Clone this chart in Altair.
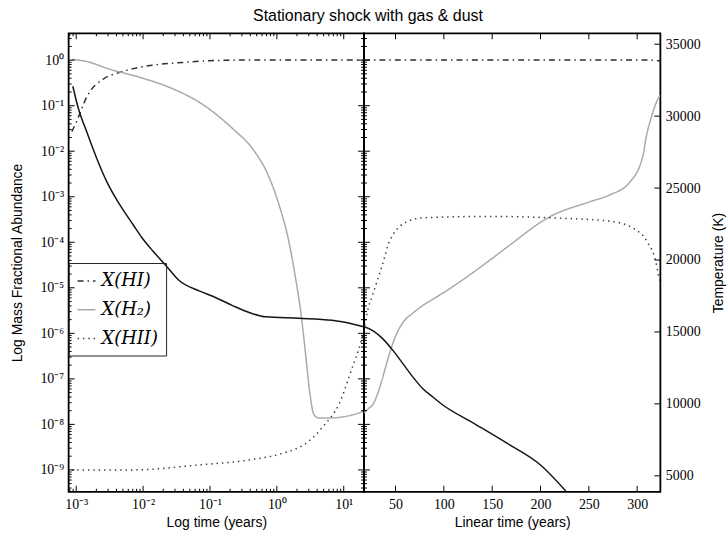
import altair as alt
import pandas as pd

# ---------------- data ----------------
# Left panel: logarithmic time (years)
hi_t_log = [8.6e-4, 1.0e-3, 1.47e-3, 2.57e-3, 4.5e-3, 1.26e-2, 3.9e-2, 0.21, 1.0, 5.0, 20.1]
hi_x_log = [0.027, 0.043, 0.166, 0.39, 0.54, 0.76, 0.89, 1.0, 1.01, 1.01, 1.01]

h2_t_log = [8.6e-4, 1.44e-3, 3.2e-3, 8.9e-3, 0.028, 0.083, 0.22, 0.43, 0.76, 1.08,
            1.51, 1.9, 2.27, 2.69, 3.17, 3.55, 4.2, 5.9, 13.1, 20.1]
h2_x_log = [1.04, 0.93, 0.63, 0.42, 0.234, 0.10, 0.031, 0.0115, 2.75e-3, 6.6e-4,
            1.05e-4, 1.66e-5, 3.1e-6, 3.5e-7, 4.0e-8, 1.7e-8, 1.38e-8, 1.38e-8, 1.6e-8, 1.95e-8]

hii_t_log = [8.6e-4, 7e-3, 0.069, 0.39, 1.2, 2.7, 3.77, 4.8, 8.5, 14.0, 16.6, 18.3, 20.1]
hii_x_log = [1.0e-9, 1.0e-9, 1.29e-9, 1.66e-9, 2.3e-9, 3.8e-9, 5.8e-9, 8.7e-9, 2.8e-8,
             2.1e-7, 4.2e-7, 6.9e-7, 1.1e-6]

temp_t_log = [8.9e-4, 1.08e-3, 1.44e-3, 2.03e-3, 2.86e-3, 4.5e-3, 7.1e-3, 9.5e-3, 0.0141,
              0.0222, 0.035, 0.069, 0.123, 0.218, 0.386, 0.68, 2.14, 6.7, 14.0, 20.1]
temp_k_log = [32080, 30510, 28900, 27060, 25450, 23830, 22450, 21580, 20610,
              19590, 18560, 17850, 17380, 16830, 16350, 16050, 15950, 15810, 15540, 15360]

# Right panel: linear time (years)
hi_t_lin = [17.4, 100, 200, 300, 316, 324]
hi_x_lin = [1.01, 1.01, 1.01, 1.01, 1.0, 0.97]

h2_t_lin = [17.4, 21.8, 26.9, 33.8, 40.6, 45.8, 50.9, 57.8, 68.1, 78.3, 88.6, 100,
            124.6, 148.6, 165.7, 210.2, 251.3, 271.9, 292.4, 306, 310, 314, 318, 321.5, 324]
h2_x_lin = [1.78e-8, 2.2e-8, 2.8e-8, 6.6e-8, 2.1e-7, 4.9e-7, 9.5e-7, 1.74e-6, 2.8e-6,
            4.1e-6, 5.6e-6, 7.9e-6, 1.78e-5, 4.2e-5, 7.9e-5, 3.7e-4, 7.8e-4, 1.1e-3,
            2.1e-3, 8.1e-3, 0.024, 0.05, 0.093, 0.141, 0.17]

hii_t_lin = [17.4, 21.8, 25.2, 28.7, 32.1, 35.5, 39, 42.4, 47.5, 54.4, 63, 75, 87,
             148, 217, 272, 296.5, 310, 320, 322, 324]
hii_x_lin = [1.12e-6, 3.6e-6, 6.0e-6, 1.0e-5, 1.66e-5, 2.75e-5, 4.9e-5, 8.9e-5, 1.48e-4,
             2.24e-4, 2.9e-4, 3.4e-4, 3.5e-4, 3.7e-4, 3.4e-4, 2.9e-4, 2.0e-4, 1.05e-4,
             3.2e-5, 1.9e-5, 1.3e-5]

temp_t_lin = [17.4, 26.9, 37.2, 47.5, 57.8, 68.1, 78.3, 88.6, 97.2, 131.5, 165.7, 200, 226.7]
temp_k_lin = [15360, 15080, 14500, 13700, 12780, 11860, 11050, 10480, 10010, 8630, 7250, 5750, 3900]

series_names = ["X(HI)", "X(H₂)", "X(HII)"]

# tick values / labels
log_x_major = [1e-3, 1e-2, 1e-1, 1, 10]
log_x_minor = [k * 10.0 ** e for e in range(-4, 2) for k in range(2, 10)
               if 7.7e-4 <= k * 10.0 ** e <= 20.1]
log_y_major = [10.0 ** e for e in range(-9, 1)]
log_y_minor = [k * 10.0 ** e for e in range(-10, 1) for k in range(2, 10)
               if 3.3e-10 <= k * 10.0 ** e <= 3.89]
lin_x_major = [50, 100, 150, 200, 250, 300]
temp_major = [5000, 10000, 15000, 20000, 25000, 30000, 35000]

# ---------------- layout constants ----------------
W_L, W_R, H = 297, 298, 461
MAJ, MIN = 6, 3

sup_map = {'-': '⁻', '0': '⁰', '1': '¹', '2': '²', '3': '³', '4': '⁴',
           '5': '⁵', '6': '⁶', '7': '⁷', '8': '⁸', '9': '⁹'}
e = "('' + round(log(datum.value)/LN10))"
for k, v in sup_map.items():
    e = f"replace({e}, '{k}', '{v}')"
sup_expr = "'10' + " + e

x_log = alt.Scale(type="log", domain=[7.7e-4, 20.1], nice=False)
x_lin = alt.Scale(type="linear", domain=[17.4, 324], nice=False, zero=False)
y_log = alt.Scale(type="log", domain=[10 ** -9.48, 10 ** 0.59], nice=False)
y_tmp = alt.Scale(type="linear", domain=[3890, 35760], nice=False, zero=False)

x_axis_log = alt.Axis(values=log_x_major, labelExpr=sup_expr, ticks=False, domain=False,
                      grid=False, title="Log time (years)", labelPadding=6,
                      labelFlush=False, titleY=31, titleBaseline="middle", orient="bottom")
x_axis_lin = alt.Axis(values=lin_x_major, format="d", ticks=False, domain=False,
                      grid=False, title="Linear time (years)", labelPadding=6,
                      labelFlush=False, titleY=31, titleBaseline="middle", orient="bottom")

color_scale = alt.Scale(domain=series_names, range=["#2e2e2e", "#aaaaaa", "#3a3a3a"])
dash_scale = alt.Scale(domain=series_names, range=[[6, 4, 1.5, 4], [1, 0], [1.4, 4]])

legend = alt.Legend(orient="none", legendX=0, legendY=231, title=None,
                    strokeColor="#222222", padding=8, symbolType="stroke",
                    symbolSize=324, symbolStrokeWidth=1.5, labelFont="DejaVu Serif",
                    labelFontStyle="italic", labelFontSize=18, rowPadding=10,
                    labelOffset=5, cornerRadius=0, labelColor="black")


def abundance_df(ts, xs):
    rows = []
    for name, t, x in zip(series_names, ts, xs):
        for a, b in zip(t, x):
            rows.append({"t": a, "v": b, "s": name})
    return pd.DataFrame(rows)


def rules_x(vals, xs, xaxis, length):
    base = alt.Chart(pd.DataFrame({"v": vals})).mark_rule(color="black", strokeWidth=1)
    enc = alt.X("v:Q", scale=xs, axis=xaxis)
    return [base.encode(x=enc, y=alt.value(H), y2=alt.value(H - length)),
            base.encode(x=enc, y=alt.value(0), y2=alt.value(length))]


def rules_y(vals, ys, length, width, left=True, right=True):
    base = alt.Chart(pd.DataFrame({"v": vals})).mark_rule(color="black", strokeWidth=1)
    enc = alt.Y("v:Q", scale=ys, axis=None)
    out = []
    if left:
        out.append(base.encode(y=enc, x=alt.value(0), x2=alt.value(length)))
    if right:
        out.append(base.encode(y=enc, x=alt.value(width - length), x2=alt.value(width)))
    return out


# ---------------- left panel ----------------
left_lines = alt.Chart(abundance_df([hi_t_log, h2_t_log, hii_t_log],
                                    [hi_x_log, h2_x_log, hii_x_log])).mark_line(
    strokeWidth=1.5, clip=True, interpolate="monotone").encode(
    x=alt.X("t:Q", scale=x_log, axis=x_axis_log),
    y=alt.Y("v:Q", scale=y_log, axis=alt.Axis(
        values=log_y_major, labelExpr=sup_expr, ticks=False, domain=False, grid=False,
        orient="left", title="Log Mass Fractional Abundance", labelPadding=5,
        titleX=-51, titleY=H / 2, titleAngle=270, titleAlign="center",
        titleBaseline="middle")),
    color=alt.Color("s:N", scale=color_scale, legend=legend),
    strokeDash=alt.StrokeDash("s:N", scale=dash_scale, legend=legend),
)

left_temp = alt.Chart(pd.DataFrame({"t": temp_t_log, "T": temp_k_log})).mark_line(
    strokeWidth=1.5, clip=True, color="#151515", interpolate="monotone").encode(
    x=alt.X("t:Q", scale=x_log, axis=x_axis_log),
    y=alt.Y("T:Q", scale=y_tmp, axis=None),
)

left_layers = [left_lines, left_temp]
left_layers += rules_x(log_x_major, x_log, x_axis_log, MAJ)
left_layers += rules_x(log_x_minor, x_log, x_axis_log, MIN)
left_layers += rules_y(log_y_major, y_log, MAJ, W_L) + rules_y(log_y_minor, y_log, MIN, W_L)
left = alt.layer(*left_layers).resolve_scale(y="independent").properties(width=W_L, height=H)

# ---------------- right panel ----------------
right_lines = alt.Chart(abundance_df([hi_t_lin, h2_t_lin, hii_t_lin],
                                     [hi_x_lin, h2_x_lin, hii_x_lin])).mark_line(
    strokeWidth=1.5, clip=True, interpolate="monotone").encode(
    x=alt.X("t:Q", scale=x_lin, axis=x_axis_lin),
    y=alt.Y("v:Q", scale=y_log, axis=None),
    color=alt.Color("s:N", scale=color_scale, legend=None),
    strokeDash=alt.StrokeDash("s:N", scale=dash_scale, legend=None),
)

right_temp = alt.Chart(pd.DataFrame({"t": temp_t_lin, "T": temp_k_lin})).mark_line(
    strokeWidth=1.5, clip=True, color="#151515", interpolate="monotone").encode(
    x=alt.X("t:Q", scale=x_lin, axis=x_axis_lin),
    y=alt.Y("T:Q", scale=y_tmp, axis=alt.Axis(
        values=temp_major, format="d", ticks=False, domain=False, grid=False,
        orient="right", title="Temperature (K)", labelPadding=5,
        titleX=58, titleY=H / 2, titleAngle=270, titleAlign="center",
        titleBaseline="middle")),
)

right_layers = [right_lines, right_temp]
right_layers += rules_x(lin_x_major, x_lin, x_axis_lin, MAJ)
right_layers += rules_y(log_y_major, y_log, MAJ, W_R, right=False)
right_layers += rules_y(log_y_minor, y_log, MIN, W_R, right=False)
right_layers += rules_y(temp_major, y_tmp, MAJ, W_R, left=False)
right = alt.layer(*right_layers).resolve_scale(y="independent").properties(width=W_R, height=H)

chart = alt.hconcat(left, right, spacing=0, bounds="flush").resolve_scale(
    color="independent", strokeDash="independent"
).properties(
    title=alt.TitleParams("Stationary shock with gas & dust", font="Liberation Sans",
                          fontSize=16, fontWeight="normal", anchor="middle", color="black",
                          offset=8),
    padding={"left": 10, "top": 6, "right": 2, "bottom": 4},
).configure_view(stroke="black", strokeWidth=1.8).configure_axis(
    labelFont="Liberation Serif", labelFontSize=14, labelColor="black",
    titleFont="Liberation Sans", titleFontSize=14, titleFontWeight="normal",
    titleColor="black",
)

chart.save("out.html", embed_options={"renderer": "svg", "actions": False})
